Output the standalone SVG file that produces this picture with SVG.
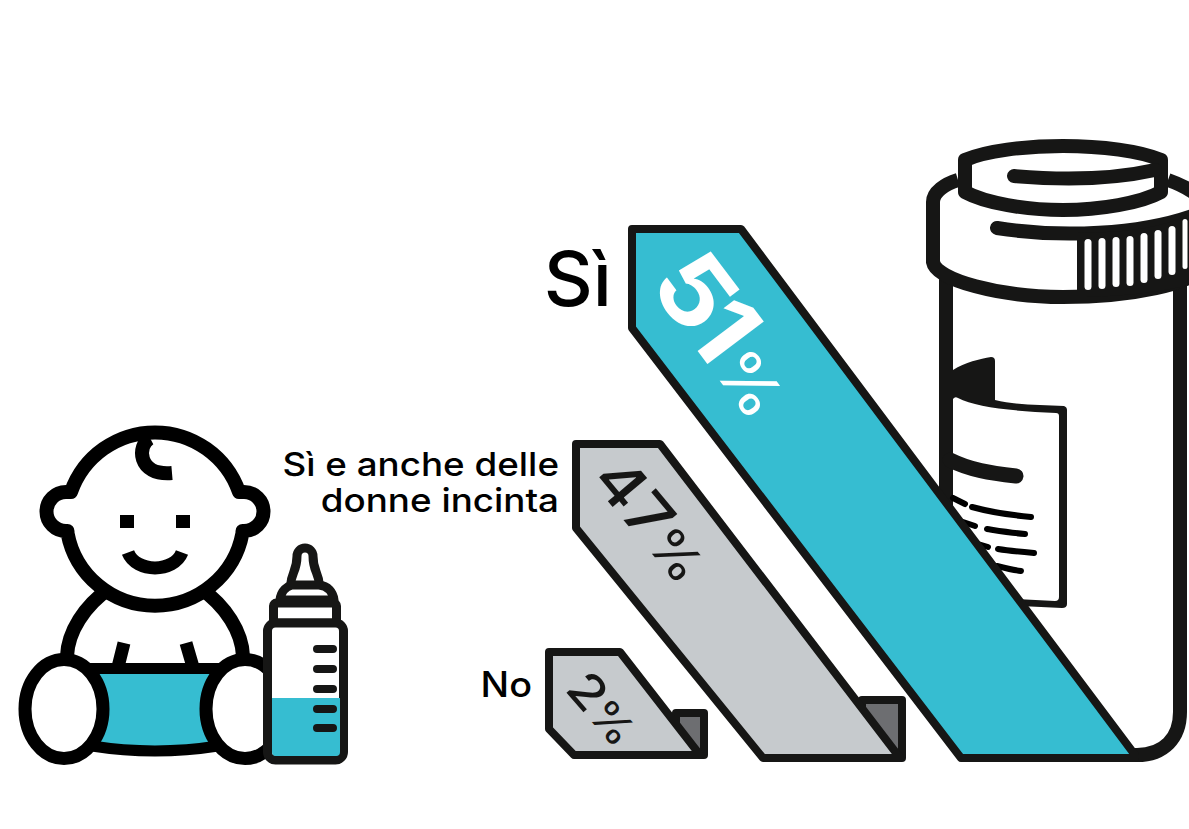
<svg xmlns="http://www.w3.org/2000/svg" width="1189" height="829" viewBox="0 0 1189 829">
<style>
.k{fill:none;stroke:#000;stroke-width:14}
.d{fill:none;stroke:#161615;stroke-linecap:round;stroke-linejoin:round}
.w{fill:#fff;stroke:#161615;stroke-width:9;stroke-linejoin:round}
.tick{stroke:#161615;stroke-width:8;stroke-linecap:round}
.band{stroke:#161615;stroke-width:8;stroke-linejoin:round}
.t{font-family:"Inter","Liberation Sans",sans-serif;fill:#000}
.slit{fill:#fff}
.lab{stroke:#000;stroke-width:6;stroke-linecap:round;fill:none}
</style>
<rect width="1189" height="829" fill="#fff"/>
<g id="jar">
<path d="M946 280V620M1180 285V712C1180 738 1164 755 1137 755L990 755" class="d" stroke-width="14"/>
<path d="M953 370C965 362 980 359 991 357Q995 357 995 361L995 400C1015 405 1040 405 1064 406Q1067 407 1067 410L1067 604Q1067 608 1062 608L1020 606L953 560Z" fill="#161615"/>
<path d="M953 399Q955 396 958 398C975 407 1010 411 1056 413Q1059 413 1059 416L1059 597Q1059 601 1055 601L1015 599L953 540Z" fill="#fff"/>
<path d="M950 460C970 470 990 473 1016 476" class="d" stroke-width="15"/>
<path d="M972 507C990 512 1010 515 1031 517M987 529C1000 531 1012 533 1025 534M998 549C1010 551 1022 552 1034 553M997 566C1005 568 1013 570 1021 571M953 498L965 504M963 522L975 526M978 544L988 547" class="lab"/>
<path d="M958 180C945 184 933 192 933 202V262C936 280 1000 297 1063 297C1126 297 1200 285 1205 262V205C1200 195 1185 186 1168 180" fill="#fff" stroke="#161615" stroke-width="14" stroke-linejoin="round"/>
<path d="M997 228C1060 238 1140 235 1195 215" class="d" stroke-width="14"/>
<path d="M1077 232C1120 234 1160 228 1189 215V285C1160 292 1120 297 1077 297Z" fill="#161615"/>
<g class="slit">
<rect x="1084.500" y="239" width="7" height="51" rx="3.500"/>
<rect x="1098.500" y="238" width="7" height="51" rx="3.500"/>
<rect x="1112.500" y="237" width="7" height="50" rx="3.500"/>
<rect x="1126.500" y="236" width="7" height="50" rx="3.500"/>
<rect x="1140.500" y="233" width="7" height="50" rx="3.500"/>
<rect x="1154.500" y="230" width="7" height="49" rx="3.500"/>
<rect x="1168.500" y="226" width="7" height="49" rx="3.500"/>
<rect x="1182.500" y="219" width="5" height="50" rx="2.500"/>
</g>
<path d="M965 160C985 151 1025 146 1063 146C1101 146 1141 151 1161 160V192C1141 203 1100 210 1063 210C1026 210 985 203 965 192Z" fill="#fff" stroke="#161615" stroke-width="14" stroke-linejoin="round"/>
<path d="M1014 176C1060 180 1110 180 1155 170" class="d" stroke-width="14"/>
</g>
<g id="connectors"/>
<g id="band-si">
<path d="M632 229H741L1135 755V758H961L632 328Z" fill="#36bdd1" class="band"/>
<text class="t" transform="translate(647 284) rotate(53) scale(1.12 1)" font-size="97" font-weight="700" style="fill:#fff">5<tspan dx="-8">1</tspan><tspan font-size="62" font-weight="400">%</tspan></text>
</g>
<g id="band-incinta">
<path d="M862 700H902V758H862Z" fill="#6d6e71" class="band"/>
<path d="M576 444H660L900 758H763L576 528Z" fill="#c6cacd" class="band"/>
<text class="t" transform="translate(590 480) rotate(50) scale(1.12 1)" font-size="62" font-weight="500" style="fill:#161615">47<tspan font-size="50" font-weight="400">%</tspan></text>
</g>
<g id="band-no">
<path d="M676 713H704V755H676Z" fill="#6d6e71" class="band"/>
<path d="M549 652H620L700 755H574L549 729Z" fill="#c6cacd" class="band"/>
<text class="t" transform="translate(564 690) rotate(49) scale(1.12 1)" font-size="48" font-weight="500" style="fill:#161615">2<tspan font-size="42" font-weight="400">%</tspan></text>
</g>
<g id="labels">
<text class="t" transform="translate(612 306)" text-anchor="end" font-size="76" font-weight="500">Sì</text>
<text class="t" transform="translate(559 0) scale(1.115 1)" text-anchor="end" font-size="33" font-weight="500"><tspan x="0" y="476">Sì e anche delle</tspan><tspan x="0" y="512">donne incinta</tspan></text>
<text class="t" transform="translate(532 697) scale(1.08 1)" text-anchor="end" font-size="35" font-weight="500">No</text>
</g>
<g id="baby">
<path d="M110 588C84 606 68 632 67 656M200 588C226 606 242 632 243 656" class="k"/>
<path d="M124 643L118 667M186 643L193 667" stroke="#000" stroke-width="13" fill="none"/>
<path d="M95 668H215V748Q155 757 95 748Z" fill="#36bdd1"/>
<path d="M90 668.500H220M92 746Q155 756 218 746" stroke="#000" stroke-width="11" fill="none"/>
<ellipse cx="64" cy="709" rx="39" ry="49.500" fill="#fff" stroke="#000" stroke-width="13"/>
<ellipse cx="245" cy="709" rx="39" ry="49.500" fill="#fff" stroke="#000" stroke-width="13"/>
<path d="M71 492H66A19.500 19.500 0 0 0 66 531H67.500L67.500 533A89 89 0 0 0 242.500 533L242.500 531H244A19.500 19.500 0 0 0 244 492H239A89 89 0 0 0 71 492Z" fill="#fff" stroke="#000" stroke-width="14" stroke-linejoin="round"/>
<path d="M150 438C137 445 137 476 172 473" class="k"/>
<rect x="120" y="515" width="14" height="13"/>
<rect x="176" y="515" width="14" height="13"/>
<path d="M128 552.500C136 573 174 573 182 552.500" fill="none" stroke="#000" stroke-width="13"/>
</g>
<g id="bottle">
<path d="M290.500 586C291 572 297 572 297 556A8 8 0 0 1 313 556C313 572 319 572 319.500 586" class="w"/>
<path d="M280 600C281 590 288 586 292 585H319C328 586 333 592 334 600Z" class="w"/>
<rect x="273.500" y="603" width="63" height="20" rx="3" class="w"/>
<rect x="267.500" y="623" width="76" height="137" rx="8" class="w"/>
<path d="M272 698H340V752Q340 756 336 756H276Q272 756 272 752Z" fill="#36bdd1"/>
<path d="M317 649H333M317 669H333M317 689H333M317 709H333M317 728H333" class="tick"/>
</g>
</svg>
